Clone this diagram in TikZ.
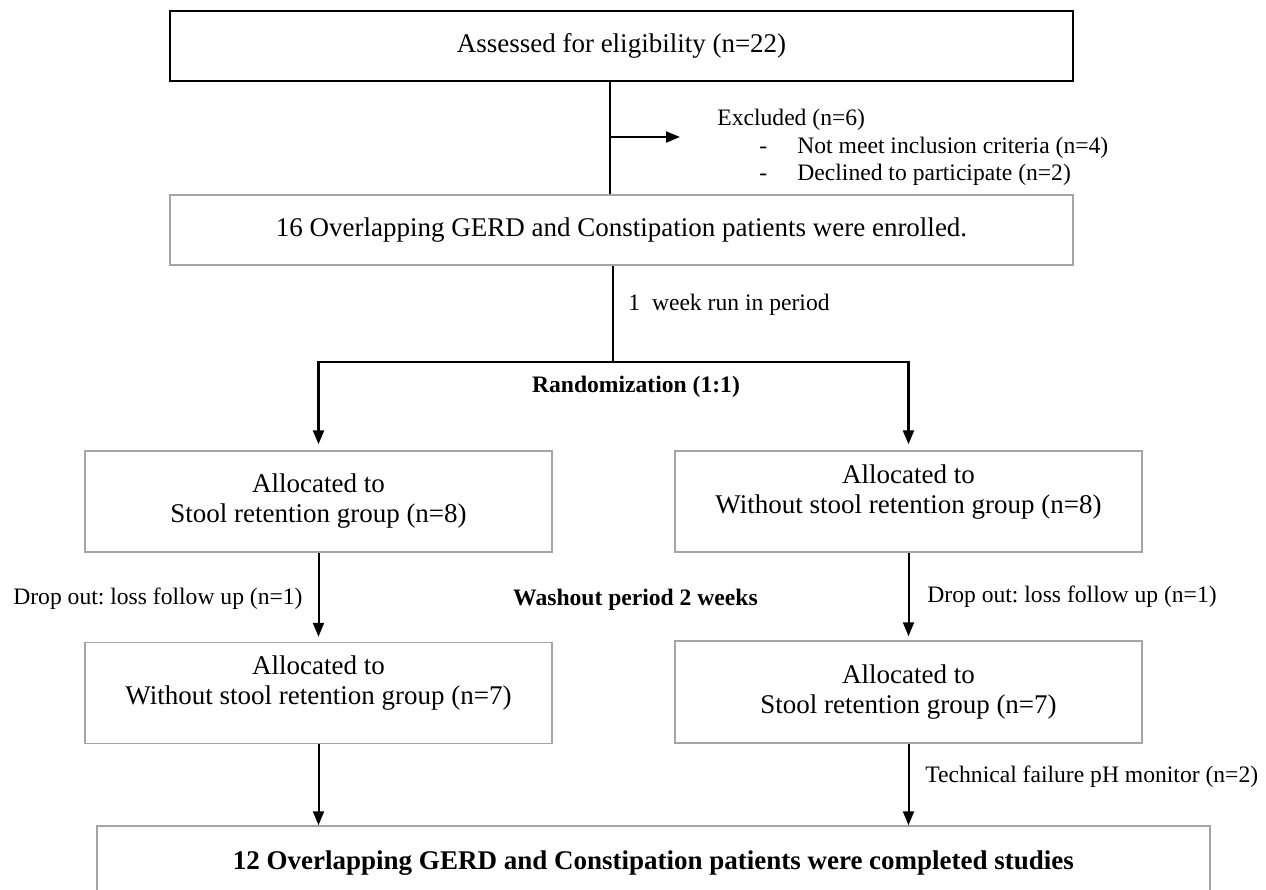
\documentclass[tikz,border=0pt]{standalone}
\usepackage{fontspec}
\setmainfont{Liberation Serif}
\usetikzlibrary{arrows.meta}

\definecolor{boxgray}{RGB}{165,165,165}

\begin{document}
\frenchspacing
\begin{tikzpicture}[
  x=0.5pt, y=-0.5pt,
  font=\fontsize{13.5}{15}\selectfont,
  box/.style={draw=boxgray, line width=0.75pt, inner sep=0pt, align=center,
    minimum width=233.5pt, minimum height=50.5pt},
  note/.style={font=\fontsize{11.8}{14}\selectfont, inner sep=0pt},
  notebold/.style={note, font=\fontsize{11.8}{14}\selectfont\bfseries},
  flow/.style={line width=1pt, -{Triangle[length=7pt,width=5.5pt]}}]

    \useasboundingbox (0,0) rectangle (1266,890);

    \node[box, draw=black, line width=1pt, minimum width=451.5pt, minimum height=35pt] at (621.5, 46) (assess) {Assessed for eligibility (n=22)};
    \node[box, minimum width=451.5pt, minimum height=35pt] at (621.5, 230) (enrol) {16 Overlapping GERD and Constipation patients were enrolled.};

    \node[box] at (318.5, 501.5) (stoolA) {Allocated to\\Stool retention group (n=8)};
    \node[box, text depth=12pt] at (908.5, 501.5) (withoutA) {Allocated to\\Without stool retention group (n=8)};
    \node[box, text depth=13pt] at (318.5, 693) (withoutB) {Allocated to\\Without stool retention group (n=7)};
    \node[box, minimum height=51pt] at (908.5, 692) (stoolB) {Allocated to\\Stool retention group (n=7)};

    \node[box, minimum width=556.5pt, minimum height=37pt, font=\fontsize{13.5}{15}\selectfont\bfseries] at (653.5, 863) (final) {12 Overlapping GERD and Constipation patients were completed studies};

    \coordinate (split) at (610, 137);
    \coordinate (exclin) at (680, 137);
    \coordinate (rand) at (613, 362);

    \draw[line width=1.1pt] (assess.south -| split) -- (enrol.north -| split);
    \draw[flow] (split) -- (exclin);
    \draw[line width=1.1pt] (enrol.south -| rand) -- (rand);
    \draw[flow, line width=1.2pt, shorten >=3pt] (rand) -| (stoolA.north);
    \draw[flow, line width=1.2pt, shorten >=3pt] (rand) -| (withoutA.north);

    \draw[flow, shorten >=2.5pt] (stoolA) -- (withoutB);
    \draw[flow, shorten >=2pt] (withoutA) -- (stoolB);
    \draw[flow] (withoutB.south) -- (withoutB.south |- final.north);
    \draw[flow] (stoolB.south) -- (stoolB.south |- final.north);

    \node[note, anchor=base west] at (717, 125) (excl) {Excluded (n=6)};
    \node[note, anchor=base west] at (759, 153) (exclA) {\makebox[19pt][l]{-}Not meet inclusion criteria (n=4)};
    \node[note, anchor=base west] at (759, 180) (exclB) {\makebox[19pt][l]{-}Declined to participate (n=2)};

    \node[note, anchor=west] at (628, 305) (runin) {1\ \ week run in period};
    \node[notebold] at (636, 387) (random) {Randomization (1:1)};
    \node[note, anchor=east] at (303, 599) (dropA) {Drop out: loss follow up (n=1)};
    \node[notebold] at (635.5, 600) (washout) {Washout period 2 weeks};
    \node[note, anchor=west] at (927, 597) (dropB) {Drop out: loss follow up (n=1)};
    \node[note, anchor=west] at (925, 777) (tech) {Technical failure pH monitor (n=2)};

\end{tikzpicture}
\end{document}
